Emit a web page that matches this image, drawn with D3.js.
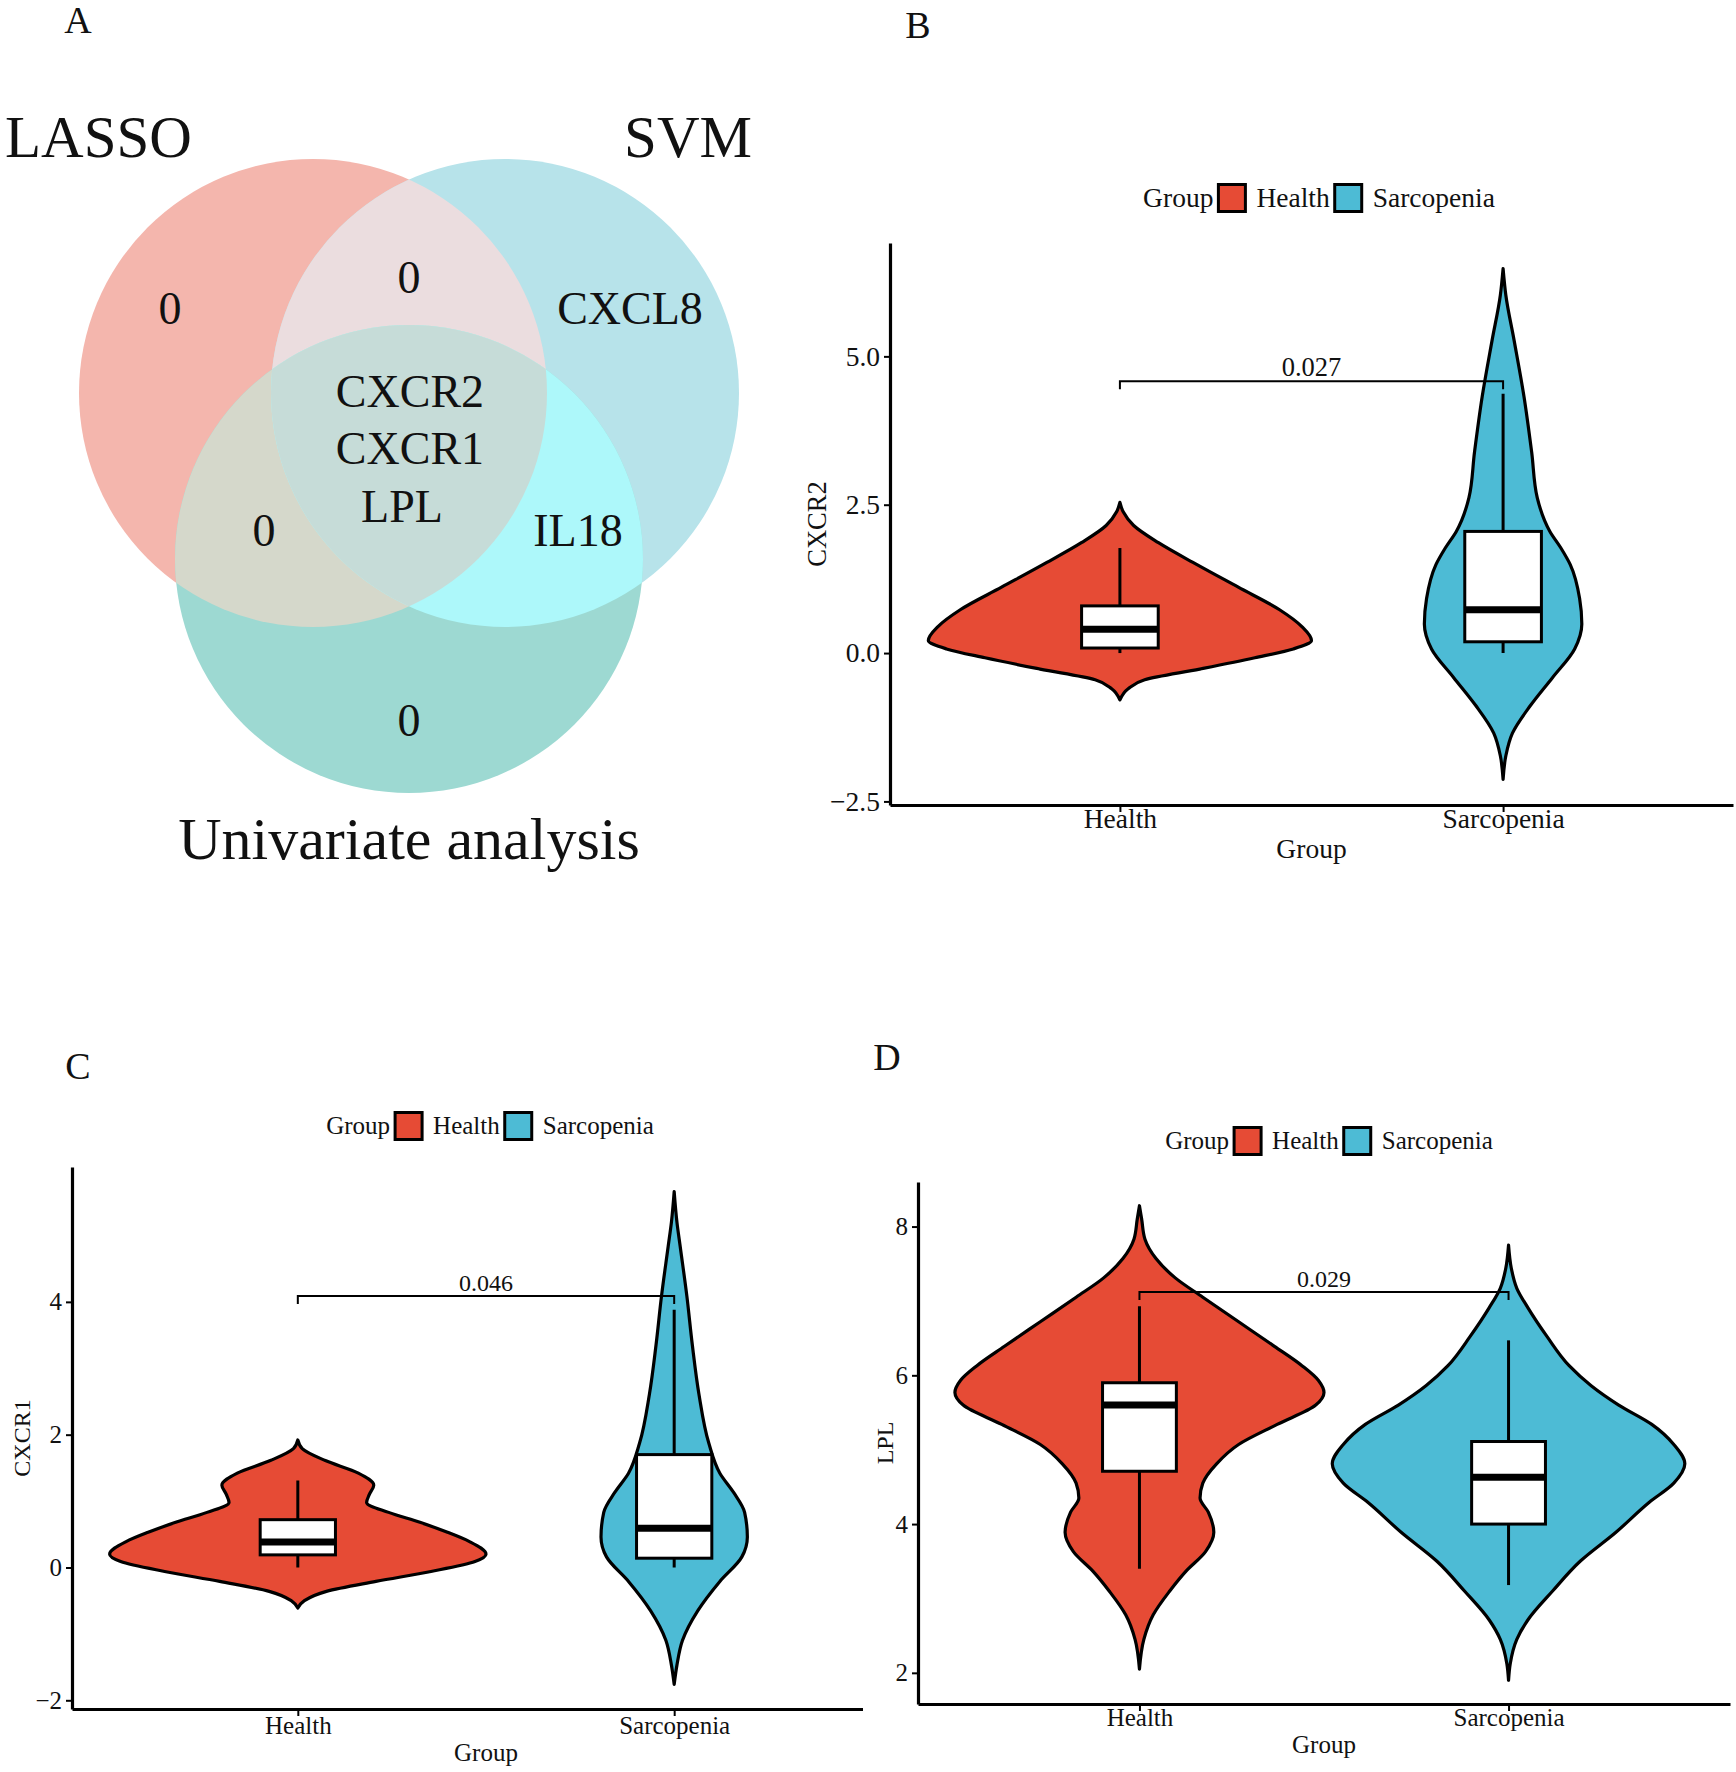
<!DOCTYPE html>
<html lang="en">
<head>
<meta charset="utf-8">
<title>Venn + violin plots</title>
<style>
  body { margin: 0; background: #fff; }
  text { font-family: "Liberation Serif", "Times New Roman", serif; fill: #111; }
</style>
<script src="https://cdn.jsdelivr.net/npm/d3@7/dist/d3.min.js"></script>
</head>
<body>
<div id="viz"></div>
<script>

// ---------- data ----------
var vennSets = ["LASSO", "SVM", "Univariate analysis"];
var vennRegionKeys = ["L", "LS", "S", "LSU", "LU", "SU", "U"];
var vennRegionGenes = [["0"], ["0"], ["CXCL8"], ["CXCR2", "CXCR1", "LPL"], ["0"], ["IL18"], ["0"]];

var groups = ["Health", "Sarcopenia"];

// violin outlines: [value, density width]
var cxcr2Health = [[2.54,0],[2.38,6],[2.15,25],[1.86,70],[1.49,140],[1.11,215],[0.73,290],[0.45,330],[0.21,348],[0.07,315],[-0.08,245],[-0.27,145],[-0.45,45],[-0.60,15],[-0.79,0]];
var cxcr2Sarc = [[6.48,0],[6.03,5],[5.27,20],[4.32,38],[3.38,52],[2.62,62],[2.05,85],[1.77,105],[1.49,122],[0.92,139],[0.49,143],[0.07,130],[-0.41,90],[-0.88,50],[-1.35,17],[-1.73,5],[-2.13,0]];
var cxcr1Health = [[1.92,0],[1.79,8],[1.61,50],[1.42,110],[1.24,138],[1.10,130],[0.98,125],[0.83,165],[0.68,222],[0.53,272],[0.39,312],[0.20,342],[0.09,322],[-0.06,242],[-0.21,142],[-0.36,52],[-0.50,12],[-0.61,0]];
var cxcr1Sarc = [[5.66,0],[5.20,5],[4.83,11],[4.09,23],[3.35,33],[2.61,45],[1.87,63],[1.42,83],[1.13,108],[0.83,128],[0.46,133],[0.16,123],[-0.21,83],[-0.65,43],[-1.10,15],[-1.47,5],[-1.76,0]];
var lplHealth = [[8.28,0],[8.10,4],[7.83,10],[7.57,30],[7.31,65],[7.05,115],[6.72,180],[6.39,245],[6.13,295],[5.93,325],[5.77,335],[5.60,320],[5.34,250],[5.07,180],[4.81,140],[4.55,115],[4.35,110],[4.16,125],[3.89,135],[3.63,120],[3.37,85],[3.10,55],[2.78,25],[2.45,8],[2.05,0]];
var lplSarc = [[7.75,0],[7.44,5],[7.17,15],[6.91,35],[6.52,70],[6.13,110],[5.86,150],[5.60,200],[5.34,260],[5.07,300],[4.81,320],[4.55,300],[4.29,255],[3.89,195],[3.50,130],[3.10,80],[2.71,35],[2.45,15],[2.12,3],[1.90,0]];

// box stats: [lower whisker, q1, median, q3, upper whisker]
var cxcr2Box = [[0.0, 0.085, 0.40, 0.795, 1.77], [0.0, 0.19, 0.73, 2.05, 4.37]];
var cxcr1Box = [[0.0, 0.19, 0.385, 0.72, 1.31], [0.0, 0.14, 0.59, 1.70, 3.88]];
var lplBox   = [[3.40, 4.71, 5.60, 5.90, 6.93], [3.18, 4.00, 4.63, 5.11, 6.47]];

var cxcr2Ticks = [-2.5, 0, 2.5, 5];
var cxcr1Ticks = [-2, 0, 2, 4];
var lplTicks = [2, 4, 6, 8];

var pLabels = ["0.027", "0.046", "0.029"];
var pBracketY = [4.58, 4.09, 7.12];

// ---------- drawing ----------
var W = 1736, H = 1772;
var groupColors = ["#E64B35", "#4DBBD5"];

var svg = d3.select('#viz').append('svg')
    .attr('width', W).attr('height', H)
    .style('background', '#fff');
svg.append('rect').attr('width', W).attr('height', H).attr('fill', '#fff');
var defs = svg.append('defs');

// panel letters
[["A", 78, 33], ["B", 918, 38], ["C", 78, 1079], ["D", 887, 1070]].forEach(function(l) {
  svg.append('text').text(l[0]).attr('x', l[1]).attr('y', l[2])
    .attr('text-anchor', 'middle').attr('font-size', 38);
});

// ---- Venn ----
var R = 234;
var centers = {L: [313, 393], S: [505, 393], U: [409, 559]};
Object.keys(centers).forEach(function(k) {
  defs.append('clipPath').attr('id', 'clip' + k).append('circle')
    .attr('cx', centers[k][0]).attr('cy', centers[k][1]).attr('r', R);
});
var venn = svg.append('g');
function disc(parent, k, fill) {
  return parent.append('circle').attr('cx', centers[k][0]).attr('cy', centers[k][1])
    .attr('r', R).attr('fill', fill);
}
disc(venn, 'L', '#F4B6AD');
disc(venn, 'S', '#B7E3EA');
disc(venn, 'U', '#9DD9D2');
disc(venn.append('g').attr('clip-path', 'url(#clipL)'), 'S', '#EBDDDF');
disc(venn.append('g').attr('clip-path', 'url(#clipL)'), 'U', '#D5D8CB');
disc(venn.append('g').attr('clip-path', 'url(#clipS)'), 'U', '#ADF8FA');
disc(venn.append('g').attr('clip-path', 'url(#clipL)').append('g').attr('clip-path', 'url(#clipS)'), 'U', '#C6DCD8');

var vennPos = {L: [170, 308], LS: [409, 277], S: [630, 308], LSU: [410, 391], LU: [264, 530], SU: [578, 530], U: [409, 720]};
vennRegionKeys.forEach(function(k, i) {
  var genes = vennRegionGenes[i];
  genes.forEach(function(gname, j) {
    var dx = (k === 'LSU' && gname === 'LPL') ? -8 : 0;
    venn.append('text').text(gname)
      .attr('x', vennPos[k][0] + dx).attr('y', vennPos[k][1] + j * 57.5)
      .attr('dy', '0.34em').attr('text-anchor', 'middle').attr('font-size', 46);
  });
});
venn.append('text').text(vennSets[0]).attr('x', 5).attr('y', 157).attr('font-size', 59);
venn.append('text').text(vennSets[1]).attr('x', 752).attr('y', 157).attr('text-anchor', 'end').attr('font-size', 59);
venn.append('text').text(vennSets[2]).attr('x', 409).attr('y', 859).attr('text-anchor', 'middle').attr('font-size', 60);

// ---- violin panels ----
var panels = [
  {gene: "CXCR2", violins: [cxcr2Health, cxcr2Sarc], boxes: cxcr2Box, ticks: cxcr2Ticks, fmt: ".1f", k: 0,
   left: 890, right: 1733, top: 243, bottom: 805, clipRight: 1736, fs: 27.5,
   legendX: 1319, legendY: 198, ytitleX: 817, xlabY: 828, xtitleY: 858},
  {gene: "CXCR1", violins: [cxcr1Health, cxcr1Sarc], boxes: cxcr1Box, ticks: cxcr1Ticks, fmt: "d", k: 1,
   left: 72, right: 900, top: 1167, bottom: 1709, clipRight: 863, fs: 25,
   legendX: 490, legendY: 1126, ytitleX: 22, xlabY: 1734, xtitleY: 1761},
  {gene: "LPL", violins: [lplHealth, lplSarc], boxes: lplBox, ticks: lplTicks, fmt: "d", k: 2,
   left: 918, right: 1730, top: 1182, bottom: 1704, clipRight: 1736, fs: 25,
   legendX: 1329, legendY: 1141, ytitleX: 885, xlabY: 1726, xtitleY: 1753}
];

panels.forEach(function(cfg, pi) {
  defs.append('clipPath').attr('id', 'pclip' + pi).append('rect')
    .attr('x', cfg.left - 120).attr('y', 0).attr('width', cfg.clipRight - cfg.left + 120).attr('height', H);
  var g = svg.append('g').attr('clip-path', 'url(#pclip' + pi + ')');

  var x = d3.scalePoint().domain(groups).range([cfg.left, cfg.right]).padding(0.6);
  var allVals = cfg.violins[0].concat(cfg.violins[1]);
  var ext = d3.extent(allVals, function(d) { return d[0]; });
  var pad = (ext[1] - ext[0]) * 0.05;
  var y = d3.scaleLinear().domain([ext[0] - pad, ext[1] + pad]).range([cfg.bottom, cfg.top]);
  var maxD = d3.max(allVals, function(d) { return d[1]; });
  var w = d3.scaleLinear().domain([0, maxD]).range([0, x.step() * 0.5]);

  // violins
  cfg.violins.forEach(function(prof, gi) {
    var cx = x(groups[gi]);
    var area = d3.area().curve(d3.curveMonotoneY)
      .y(function(d) { return y(d[0]); })
      .x0(function(d) { return cx - w(d[1]); })
      .x1(function(d) { return cx + w(d[1]); });
    g.append('path').attr('d', area(prof))
      .attr('fill', groupColors[gi]).attr('stroke', '#000')
      .attr('stroke-width', 3.2).attr('stroke-linejoin', 'round');
  });

  // boxplots
  var bw = x.step() * 0.2;
  cfg.boxes.forEach(function(b, gi) {
    var cx = x(groups[gi]);
    g.append('line').attr('x1', cx).attr('x2', cx).attr('y1', y(b[0])).attr('y2', y(b[4]))
      .attr('stroke', '#000').attr('stroke-width', 3);
    g.append('rect').attr('x', cx - bw / 2).attr('width', bw)
      .attr('y', y(b[3])).attr('height', y(b[1]) - y(b[3]))
      .attr('fill', '#fff').attr('stroke', '#000').attr('stroke-width', 3);
    g.append('line').attr('x1', cx - bw / 2).attr('x2', cx + bw / 2)
      .attr('y1', y(b[2])).attr('y2', y(b[2]))
      .attr('stroke', '#000').attr('stroke-width', 7);
  });

  // significance bracket
  var by = y(pBracketY[cfg.k]);
  var x1 = x(groups[0]), x2 = x(groups[1]);
  g.append('path').attr('d', 'M' + x1 + ',' + (by + 8) + 'V' + by + 'H' + x2 + 'V' + (by + 8))
    .attr('fill', 'none').attr('stroke', '#000').attr('stroke-width', 2);
  g.append('text').text(pLabels[cfg.k]).attr('x', (x1 + x2) / 2).attr('y', by - 5)
    .attr('text-anchor', 'middle').attr('font-size', cfg.fs - 1);

  // axes
  var ya = g.append('g').attr('transform', 'translate(' + cfg.left + ',0)')
    .call(d3.axisLeft(y).tickValues(cfg.ticks).tickSize(6).tickSizeOuter(0).tickPadding(4)
      .tickFormat(d3.format(cfg.fmt)));
  var xa = g.append('g').attr('transform', 'translate(0,' + cfg.bottom + ')')
    .call(d3.axisBottom(x).tickSize(7).tickSizeOuter(0));
  [ya, xa].forEach(function(a) {
    a.attr('font-family', null).attr('font-size', cfg.fs);
    a.select('.domain').attr('stroke-width', 3.2).attr('stroke', '#000');
    a.selectAll('.tick line').attr('stroke-width', 2).attr('stroke', '#000');
    a.selectAll('.tick text').attr('fill', '#111');
  });
  xa.selectAll('.tick text').attr('y', cfg.xlabY - cfg.bottom).attr('dy', null);

  // axis titles
  g.append('text').text('Group').attr('x', (cfg.left + cfg.right) / 2).attr('y', cfg.xtitleY)
    .attr('text-anchor', 'middle').attr('font-size', cfg.fs);
  g.append('text').text(cfg.gene)
    .attr('transform', 'translate(' + cfg.ytitleX + ',' + (cfg.top + cfg.bottom) / 2 + ') rotate(-90)')
    .attr('dy', '0.35em').attr('text-anchor', 'middle').attr('font-size', cfg.fs - 1);

  // legend
  var lg = g.append('g');
  var key = 27, gapA = 5, gapB = 11;
  var parts = [{t: 'Group'}, {k: 0}, {t: groups[0]}, {k: 1}, {t: groups[1]}];
  var cur = 0;
  parts.forEach(function(p, i) {
    if (p.t !== undefined) {
      p.node = lg.append('text').text(p.t).attr('font-size', cfg.fs).attr('y', cfg.legendY + 0.33 * cfg.fs);
      p.x = cur; cur += p.node.node().getComputedTextLength();
      if (i < parts.length - 1) cur += gapA;
    } else {
      p.node = lg.append('rect').attr('width', key).attr('height', key)
        .attr('y', cfg.legendY - key / 2).attr('fill', groupColors[p.k])
        .attr('stroke', '#000').attr('stroke-width', 3);
      p.x = cur; cur += key + gapB;
    }
  });
  var start = cfg.legendX - cur / 2;
  parts.forEach(function(p) { p.node.attr('x', start + p.x); });
});

</script>
</body>
</html>
